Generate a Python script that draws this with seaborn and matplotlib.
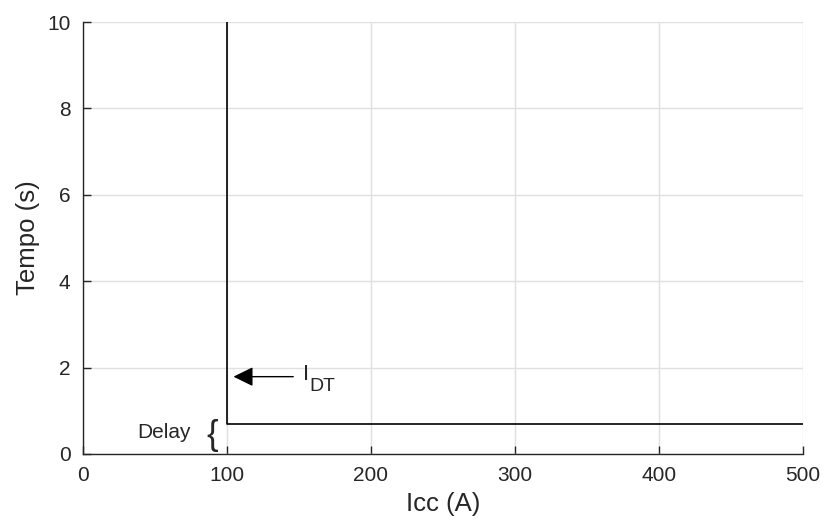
import numpy as np
import pandas as pd
import seaborn as sns
import matplotlib.pyplot as plt

# curve of definite time relay
icc = [100, 100, 500]
tempo = [10, 0.7, 0.7]
x_ticks = [0, 100, 200, 300, 400, 500]
y_ticks = [0, 2, 4, 6, 8, 10]

sns.set_theme(style="whitegrid")
plt.rcParams['font.family'] = ['Liberation Sans', 'DejaVu Sans']

fig = plt.figure(figsize=(8.24, 5.29), dpi=100)
ax = fig.add_axes([0.1007, 0.1418, 0.8738, 0.8166])

df = pd.DataFrame({'Icc (A)': icc, 'Tempo (s)': tempo})
sns.lineplot(data=df, x='Icc (A)', y='Tempo (s)', sort=False, estimator=None,
             errorbar=None, color='black', linewidth=1.2, ax=ax)

ax.set_xlim(0, 500)
ax.set_ylim(0, 10)
ax.set_xticks(x_ticks)
ax.set_yticks(y_ticks)
ax.grid(True, color='#e0e0e0', linewidth=1.0)
ax.set_axisbelow(True)
for s in ['top', 'right']:
    ax.spines[s].set_visible(False)
for s in ['left', 'bottom']:
    ax.spines[s].set_color('#262626')
    ax.spines[s].set_linewidth(1.0)
ax.tick_params(direction='in', length=6, width=1.0, color='#262626', labelsize=15,
               labelcolor='#262626', left=True, bottom=True, pad=9)
ax.set_xlabel('Icc (A)', fontsize=18.5, color='#262626', labelpad=5)
ax.set_ylabel('Tempo (s)', fontsize=18.5, color='#262626', labelpad=5)

ax.annotate('', xy=(104.5, 1.79), xytext=(146, 1.79),
            arrowprops=dict(arrowstyle='-|>,head_length=0.55,head_width=0.27',
                            color='black', lw=1.0, mutation_scale=22,
                            shrinkA=0, shrinkB=0))
ax.text(152.5, 1.83, 'I', fontsize=16, va='center', ha='left')
ax.text(157, 1.57, 'DT', fontsize=14, va='center', ha='left')
ax.text(37.5, 0.49, 'Delay', fontsize=15, va='center', ha='left')
ax.text(89.6, 0.42, '{', fontsize=25, va='center', ha='center')

fig.savefig('out.png', dpi=100)
